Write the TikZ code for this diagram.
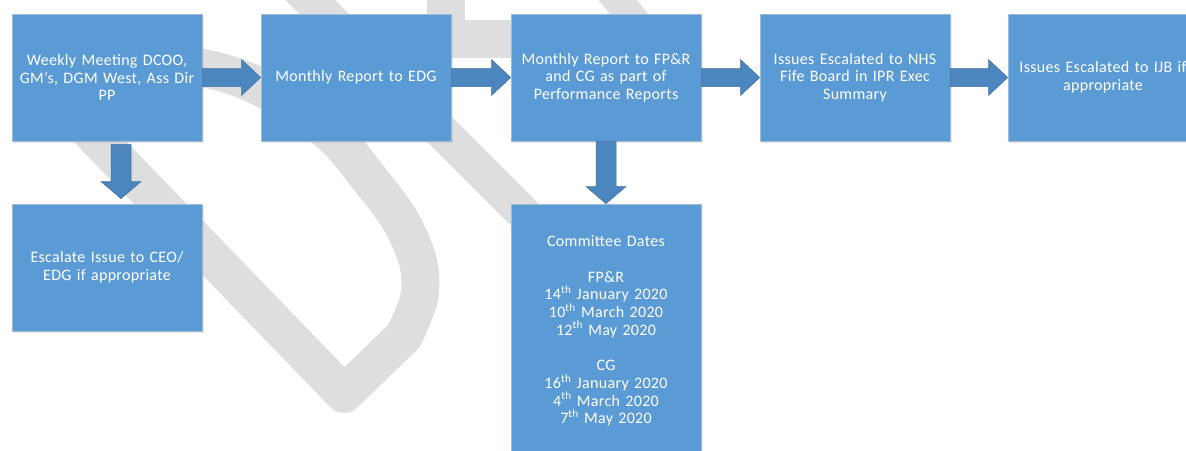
\documentclass[tikz,border=0pt]{standalone}
\usepackage{fontspec}
\setmainfont{Carlito}[LetterSpace=2]
\usetikzlibrary{calc,shadows}
\definecolor{boxblue}{HTML}{5B9BD5}
\definecolor{boxedge}{HTML}{A3BCD6}
\definecolor{arrowblue}{HTML}{4C86BE}
\definecolor{arrowedge}{HTML}{41719C}
\definecolor{markgrey}{HTML}{DEDEDE}

% block arrow pointing right, from the east side of #1 to the west side of #2
\newcommand{\blockarrowR}[2]{%
  \filldraw[blockarrow] let \p1=(#1.east), \p2=(#2.west) in
    (\x1,\y1+9pt) -- (\x2-19pt,\y1+9pt) -- (\x2-19pt,\y1+18pt) -- (\x2,\y1)
    -- (\x2-19pt,\y1-18pt) -- (\x2-19pt,\y1-9pt) -- (\x1,\y1-9pt) -- cycle;}
% block arrow pointing down: from #1 to #2, shifted by #3, gaps #4 (start) and #5 (tip)
\newcommand{\blockarrowD}[5]{%
  \filldraw[blockarrow] let \p1=(#1.south), \p2=(#2.north) in
    (\x1+#3-10pt,\y1-#4) -- (\x1+#3+10pt,\y1-#4) -- (\x1+#3+10pt,\y2+#5+17pt)
    -- (\x1+#3+20pt,\y2+#5+17pt) -- (\x1+#3,\y2+#5) -- (\x1+#3-20pt,\y2+#5+17pt)
    -- (\x1+#3-10pt,\y2+#5+17pt) -- cycle;}

\begin{document}
\begin{tikzpicture}[x=1pt,y=-1pt,
  box/.style={rectangle, fill=boxblue, draw=boxedge, line width=0.8pt,
    minimum width=190pt, minimum height=127pt, text width=186pt, inner sep=2pt,
    align=center, text=white, font=\fontsize{16pt}{17.7pt}\selectfont,
    drop shadow={opacity=0.18, shadow xshift=1.5pt, shadow yshift=-2pt}},
  blockarrow/.style={fill=arrowblue, draw=arrowedge, line width=0.5pt},
  wmark/.style={draw=markgrey, line width=#1, line join=round},
  wmark/.default=38pt]
\useasboundingbox (0,0) rectangle (1186,450);
\begin{scope}
\clip (0,0) rectangle (1186,450);

% background lettering strokes
\draw[wmark] (55,95) -- (344,394) -- plot[smooth, tension=0.55] coordinates
  {(404,336) (419,298) (418,262) (400,220) (368,177) (330,133) (262,88)
   (203,68) (130,62) (75,78) (55,95)};
\draw[wmark=35pt] (290,-20) -- (560,250);
\draw[wmark=38pt, line join=miter] (446,-30) -- (446,39) -- (540,39);
\draw[wmark=30pt] (602,-20) -- (677,75);

% process boxes
\node[box] (weekly) at (107,77.5) {Weekly Meeting DCOO,\\GM’s, DGM West, Ass Dir\\PP};
\node[box] (edg) at (356,77.5) {Monthly Report to EDG};
\node[box] (fpr) at (606,77.5) {Monthly Report to FP\&R\\and CG as part of\\Performance Reports};
\node[box] (nhs) at (855,77.5) {Issues Escalated to NHS\\Fife Board in IPR Exec\\Summary};
\node[box] (ijb) at (1103,77.5) {Issues Escalated to IJB if\\appropriate};
\node[box] (ceo) at (107,267.5) {Escalate Issue to CEO/\\EDG if appropriate};
\node[box, minimum height=254pt] (dates) at (606,331)
  {Committee Dates\\[17.7pt]
   FP\&R\\
   14\textsuperscript{th} January 2020\\
   10\textsuperscript{th} March 2020\\
   12\textsuperscript{th} May 2020\\[17.7pt]
   CG\\
   16\textsuperscript{th} January 2020\\
   4\textsuperscript{th} March 2020\\
   7\textsuperscript{th} May 2020};

% connectors
\blockarrowR{weekly}{edg}
\blockarrowR{edg}{fpr}
\blockarrowR{fpr}{nhs}
\blockarrowR{nhs}{ijb}
\blockarrowD{weekly}{ceo}{14pt}{3pt}{5pt}
\blockarrowD{fpr}{dates}{0pt}{0pt}{0pt}
\end{scope}
\end{tikzpicture}
\end{document}
